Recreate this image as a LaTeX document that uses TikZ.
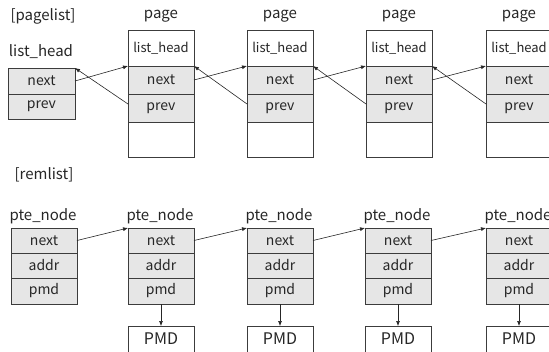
\documentclass[tikz,border=0pt]{standalone}
\usepackage{fontspec}
\setmainfont{Noto Sans CJK JP}
\usetikzlibrary{arrows.meta}
\definecolor{cellfill}{HTML}{E6E6E6}
\definecolor{edge}{HTML}{3C3C3C}
\definecolor{ink}{HTML}{262626}
\begin{document}
\begin{tikzpicture}[x=1pt,y=-1pt,
  cell/.style={draw=edge, line width=1pt, fill=cellfill, anchor=north west, inner sep=0pt, outer sep=0pt,
    minimum width=66pt, font=\fontsize{14}{14}\selectfont, text=ink},
  blank/.style={cell, fill=white},
  lbl/.style={font=\fontsize{15}{15}\selectfont, text=ink, inner sep=0pt},
  link/.style={draw=ink, line width=0.6pt, -{Latex[length=5pt,width=4pt]}}]
\useasboundingbox (0,0) rectangle (549,351);

% ---------- pagelist ----------
\node[lbl] (pagelist) at (43,16) {[pagelist]};
\node[lbl] (lhlabel) at (41,52) {list\_head};
\node[cell, minimum width=67pt, minimum height=26pt] (lh-next) at (8,68) {next};
\node[cell, minimum width=67pt, minimum height=25pt] (lh-prev) at (8,94) {prev};

\foreach \x [count=\i] in {128,247,366,486} {
  \node[lbl] (page\i) at (\x+33,16) {page};
  \node[blank, minimum height=36pt, font=\fontsize{13}{13}\selectfont] (p\i-head) at (\x,30) {list\_head};
  \node[cell, minimum height=28pt] (p\i-next) at (\x,66) {next};
  \node[cell, minimum height=28pt] (p\i-prev) at (\x,94) {prev};
  \node[blank, minimum height=35pt] (p\i-empty) at (\x,122) {};
}

\draw[link] (lh-next.east) -- (p1-next.north west);
\draw[link] ([yshift=4pt]p1-prev.west) -- (lh-next.north east);
\foreach \i/\j in {1/2,2/3,3/4} {
  \draw[link] (p\i-next.east) -- (p\j-next.north west);
  \draw[link] ([yshift=4pt]p\j-prev.west) -- (p\i-next.north east);
}

% ---------- remlist ----------
\node[lbl] (remlist) at (44,175) {[remlist]};
\foreach \x [count=\i from 0] in {11,128,247,365,486} {
  \node[lbl] (nl\i) at (\x+32,216) {pte\_node};
  \node[cell, minimum height=25pt] (n\i-next) at (\x,228) {next};
  \node[cell, minimum height=25pt] (n\i-addr) at (\x,253) {addr};
  \node[cell, minimum height=26pt] (n\i-pmd) at (\x,278) {pmd};
}
\foreach \x [count=\i] in {128,247,365,486} {
  \node[blank, minimum height=30pt, font=\fontsize{16}{16}\selectfont] (pmd\i) at (\x,326) {\raisebox{4pt}{PMD}};
  \draw[link] (n\i-pmd.south) -- (pmd\i.north);
}
\foreach \i/\j in {0/1,1/2,2/3,3/4} {
  \draw[link] (n\i-next.east) -- (n\j-next.north west);
}
\end{tikzpicture}
\end{document}
